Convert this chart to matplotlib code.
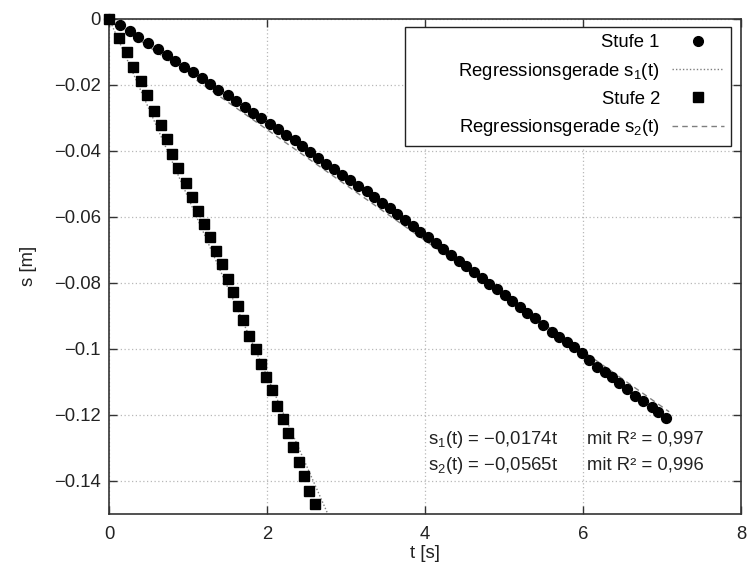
import matplotlib
matplotlib.use("Agg")
import matplotlib.pyplot as plt
from matplotlib.lines import Line2D

plt.rcParams['font.family'] = ['Liberation Sans', 'DejaVu Sans']
plt.rcParams['mathtext.fontset'] = 'custom'
plt.rcParams['mathtext.rm'] = 'Liberation Sans'
plt.rcParams['mathtext.it'] = 'Liberation Sans:italic'
plt.rcParams['mathtext.default'] = 'regular'

# ---- data ----
t1 = [0, 0.139, 0.266, 0.371, 0.497, 0.616, 0.730, 0.835, 0.949, 1.059,
      1.173, 1.278, 1.384, 1.500, 1.608, 1.715, 1.820, 1.927, 2.033, 2.139,
      2.244, 2.348, 2.443, 2.544, 2.646, 2.747, 2.848, 2.949, 3.051, 3.156,
      3.262, 3.359, 3.456, 3.553, 3.650, 3.747, 3.845, 3.942, 4.039, 4.136,
      4.233, 4.330, 4.427, 4.524, 4.621, 4.718, 4.815, 4.912, 5.009, 5.106,
      5.203, 5.295, 5.392, 5.490, 5.604, 5.700, 5.794, 5.886, 5.984, 6.080,
      6.173, 6.278, 6.363, 6.459, 6.553, 6.658, 6.763, 6.870, 6.953, 7.047]
s1 = [0, -0.0019, -0.0037, -0.0055, -0.0073, -0.0093, -0.0110, -0.0128, -0.0145, -0.0161,
      -0.0181, -0.0199, -0.0216, -0.0231, -0.0248, -0.0268, -0.0285, -0.0302, -0.0318, -0.0335,
      -0.0352, -0.0368, -0.0386, -0.0405, -0.0422, -0.0440, -0.0457, -0.0474, -0.0490, -0.0506,
      -0.0523, -0.0540, -0.0558, -0.0575, -0.0593, -0.0610, -0.0628, -0.0645, -0.0663, -0.0680,
      -0.0698, -0.0715, -0.0733, -0.0750, -0.0768, -0.0785, -0.0803, -0.0820, -0.0838, -0.0855,
      -0.0873, -0.0891, -0.0908, -0.0928, -0.0948, -0.0965, -0.0979, -0.0994, -0.1014, -0.1034,
      -0.1055, -0.1070, -0.1087, -0.1105, -0.1123, -0.1143, -0.1158, -0.1176, -0.1191, -0.1211]

t2 = [0, 0.127, 0.224, 0.308, 0.405, 0.477, 0.570, 0.654, 0.730, 0.801,
      0.877, 0.971, 1.047, 1.123, 1.203, 1.278, 1.351, 1.434, 1.510, 1.566,
      1.629, 1.700, 1.776, 1.857, 1.920, 1.987, 2.057, 2.130, 2.199, 2.262,
      2.325, 2.405, 2.468, 2.532, 2.608]
s2 = [0, -0.0059, -0.0102, -0.0145, -0.0189, -0.0231, -0.0279, -0.0322, -0.0365, -0.0410,
      -0.0453, -0.0497, -0.0539, -0.0582, -0.0622, -0.0662, -0.0703, -0.0743, -0.0789, -0.0829,
      -0.0871, -0.0913, -0.0961, -0.1002, -0.1046, -0.1087, -0.1125, -0.1173, -0.1214, -0.1256,
      -0.1299, -0.1342, -0.1386, -0.1430, -0.1471]

fit1_slope = -0.0168
fit1_t = [0.0, 7.09]
fit2_slope = -0.0542
fit2_t = [0.0, 2.9]

xticks = [0, 2, 4, 6, 8]
xtick_labels = ['0', '2', '4', '6', '8']
yticks = [0, -0.02, -0.04, -0.06, -0.08, -0.1, -0.12, -0.14]
ytick_labels = ['0', '\u22120.02', '\u22120.04', '\u22120.06', '\u22120.08',
                '\u22120.1', '\u22120.12', '\u22120.14']

legend_labels = ['Stufe 1', 'Regressionsgerade s$_{1}$(t)',
                 'Stufe 2', 'Regressionsgerade s$_{2}$(t)']
eq_left = ['s$_{1}$(t) = \u22120,0174t', 's$_{2}$(t) = \u22120,0565t']
eq_right = ['mit R\u00b2 = 0,997', 'mit R\u00b2 = 0,996']

FS = 13.3
grey = '#7f7f7f'

fig = plt.figure(figsize=(7.47, 5.73), dpi=100)
ax = fig.add_axes([0.146, 0.1035, 0.846, 0.8639])

ax.set_xlim(0, 8)
ax.set_ylim(-0.15, 0)

ax.plot(fit1_t, [fit1_slope * t for t in fit1_t], color=grey, lw=1.0,
        ls=(0, (4, 3)), zorder=2)
ax.plot(fit2_t, [fit2_slope * t for t in fit2_t], color=grey, lw=1.0,
        ls=(0, (1, 1.5)), zorder=2)
ax.plot(t1, s1, ls='none', marker='o', ms=7.1, color='black', zorder=3,
        clip_on=False)
ax.plot(t2, s2, ls='none', marker='s', ms=6.9, color='black', zorder=3,
        clip_on=False)

ax.set_xticks(xticks)
ax.set_xticklabels(xtick_labels)
ax.set_yticks(yticks)
ax.set_yticklabels(ytick_labels)
ax.grid(True, color='#b8b8b8', ls=(0, (1, 2)), lw=0.9)
ax.tick_params(direction='in', length=6, width=1.0, top=True, right=True,
               labelsize=FS, colors='#333333', labelcolor='#222222')
ax.tick_params(axis='x', pad=9)
ax.tick_params(axis='y', pad=6)
for sp in ax.spines.values():
    sp.set_linewidth(1.2)
    sp.set_color('#333333')

ax.set_xlabel('t [s]', fontsize=FS, color='#222222', labelpad=1)
ax.set_ylabel('s [m]', fontsize=FS, color='#222222', labelpad=12)

for i in range(2):
    y = -0.1274 - i * 0.0079
    ax.text(4.04, y, eq_left[i], fontsize=FS, ha='left', va='center',
            color='#222222')
    ax.text(6.05, y, eq_right[i], fontsize=FS, ha='left', va='center',
            color='#222222')

handles = [
    Line2D([], [], ls='none', marker='o', ms=7, color='black'),
    Line2D([], [], color=grey, lw=1.0, ls=(0, (1, 1.5))),
    Line2D([], [], ls='none', marker='s', ms=6.5, color='black'),
    Line2D([], [], color=grey, lw=1.0, ls=(0, (4, 3))),
]
pad_labels = list(legend_labels)
pad_labels[1] = ' ' * 9 + pad_labels[1]
leg = ax.legend(handles, pad_labels, loc='upper right',
                bbox_to_anchor=(0.984, 0.983), borderaxespad=0,
                markerfirst=False, fontsize=FS, frameon=True, fancybox=False,
                framealpha=1, edgecolor='#222222', handlelength=2.8,
                handletextpad=0.65, labelspacing=0.5, borderpad=0.4,
                numpoints=1)
leg.get_frame().set_linewidth(1.0)
col = leg._legend_handle_box._children[0]
col.align = 'right'

fig.savefig('out.png', dpi=100)
